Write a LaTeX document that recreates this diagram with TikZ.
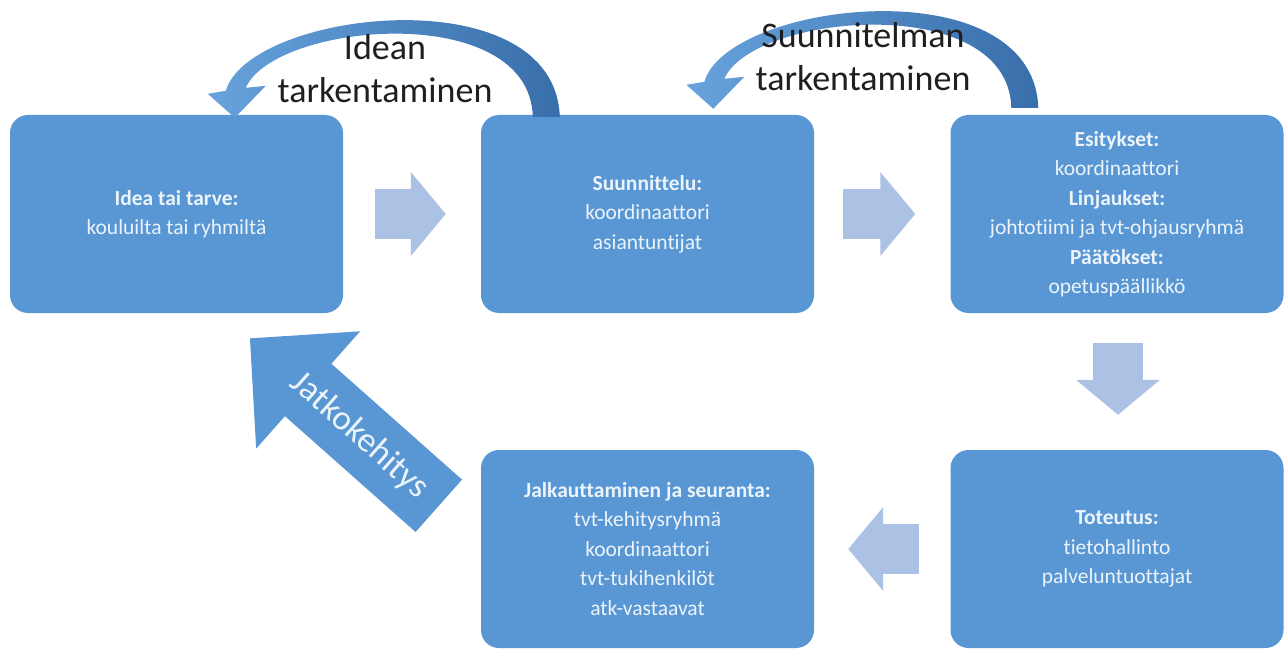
\documentclass[tikz,border=0pt]{standalone}
\usepackage{fontspec}
\setmainfont{Carlito}[Ligatures={NoCommon}]
\usetikzlibrary{arrows.meta,calc}

\definecolor{boxblue}{RGB}{88,151,211}
\definecolor{paleblue}{RGB}{172,194,228}
\definecolor{boxtext}{RGB}{236,243,251}
\definecolor{curvelight}{RGB}{104,163,222}
\definecolor{curvedark}{RGB}{56,110,170}

\tikzset{
  stage/.style={fill=boxblue, rounded corners=18pt, minimum width=333pt,
    minimum height=198pt, inner sep=0pt, align=center, text=boxtext,
    font=\fontsize{21.5}{29.5}\selectfont},
  flow/.style={paleblue, line width=50pt, -{Triangle[length=35pt,width=82pt]}},
  bendlabel/.style={align=center, text=black!88, font=\fontsize{36}{43}\selectfont}
}

\begin{document}
\begin{tikzpicture}[x=1pt,y=-1pt]
\useasboundingbox (0,0) rectangle (1285,650);

% the five stages
\node[stage] (idea) at (176.5,214) {\textbf{Idea tai tarve:}\\kouluilta tai ryhmiltä};
\node[stage] (suun) at (647.5,214) {\textbf{Suunnittelu:}\\koordinaattori\\asiantuntijat};
\node[stage] (esit) at (1117,214) {\textbf{Esitykset:}\\koordinaattori\\\textbf{Linjaukset:}\\johtotiimi ja tvt-ohjausryhmä\\\textbf{Päätökset:}\\opetuspäällikkö};
\node[stage] (tote) at (1117,549) {\textbf{Toteutus:}\\tietohallinto\\palveluntuottajat};
\node[stage] (jalk) at (647.5,549) {\textbf{Jalkauttaminen ja seuranta:}\\tvt-kehitysryhmä\\koordinaattori\\tvt-tukihenkilöt\\atk-vastaavat};

% flat arrows
\draw[flow] ($(idea.east)+(32,0)$) -- ($(suun.west)+(-35,0)$);
\draw[flow] ($(suun.east)+(29,0)$) -- ($(esit.west)+(-35,0)$);
\draw[flow] ($(esit.south)+(1,30)$) -- ($(tote.north)+(1,-35)$);
\draw[flow] ($(tote.west)+(-31,0)$) -- ($(jalk.east)+(34,0)$);

% back to the start
\draw[boxblue, line width=70pt, -{Triangle[length=78pt,width=152pt]}]
  ($(jalk.north west)+(-42,56)$) -- node[sloped, pos=0.42, text=boxtext,
  font=\fontsize{35}{40}\selectfont] (jatko) {Jatkokehitys} ($(idea.south west)+(240,25)$);

% curved arrows over the top
\foreach \from/\dx/\dy in {suun/79/2, esit/88/-7} {
  \shade[left color=curvelight, right color=curvedark, shift={($(\from.north west)+(\dx,\dy)$)}]
    (0,0) .. controls (-5,-142) and (-310,-107) .. (-334,-26)
    -- (-352,-23) -- (-325,1) -- (-294,-31) -- (-314,-29)
    .. controls (-285,-95) and (-30,-117) .. (-27,0) -- cycle;
}
\node[bendlabel] (idealbl) at (385,69) {Idean\\tarkentaminen};
\node[bendlabel] (suunlbl) at (863,57) {Suunnitelman\\tarkentaminen};
\end{tikzpicture}
\end{document}
